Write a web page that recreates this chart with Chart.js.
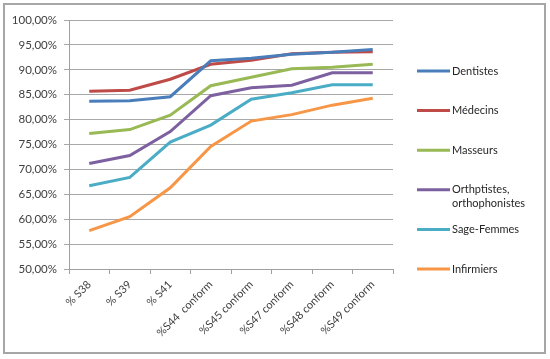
<!DOCTYPE html>
<html>
<head>
<meta charset="utf-8">
<script src="https://cdn.jsdelivr.net/npm/chart.js@4"></script>
<style>
  html, body { margin: 0; padding: 0; background: #fff; }
  #wrap { position: relative; width: 550px; height: 359px; }
  #frame { position: absolute; left: 3px; top: 3px; width: 539px; height: 347px;
           border: 2px solid #a6a6a6; pointer-events: none; }
</style>
</head>
<body>
<div id="wrap">
  <canvas id="lineChart" width="550" height="359"></canvas>
  <div id="frame"></div>
</div>
<script>
const weeks = ['% S38', '% S39', '% S41', '%S44  conform', '%S45 conform',
  '%S47 conform', '%S48 conform', '%S49 conform'];

const dentistes = [83.7, 83.8, 84.6, 91.8, 92.3, 93.1, 93.5, 94.1];
const medecins = [85.7, 85.9, 88.1, 91.1, 91.9, 93.2, 93.5, 93.6];
const masseurs = [77.2, 78.0, 80.9, 86.8, 88.5, 90.2, 90.5, 91.1];
const orthoptistes = [71.2, 72.8, 77.6, 84.8, 86.4, 86.9, 89.4, 89.4];
const sageFemmes = [66.7, 68.4, 75.5, 78.9, 84.1, 85.4, 87.0, 87.0];
const infirmiers = [57.7, 60.5, 66.3, 74.6, 79.7, 81.0, 82.9, 84.3];

const seriesNames = ['Dentistes', 'Médecins', 'Masseurs',
  'Orthptistes,\northophonistes', 'Sage-Femmes', 'Infirmiers'];
const seriesColors = ['#4a7ebb', '#be4b48', '#98b954', '#7d60a0', '#4bacc6', '#f79646'];

const yMin = 50;
const yMax = 100;
const yStep = 5;

const font = 'Lato';

// legend drawn by hand so the spacing matches the spreadsheet look
const sideLegend = {
  id: 'sideLegend',
  afterDraw(chart) {
    const ctx = chart.ctx;
    const top = 71, gap = 39.6;
    ctx.save();
    ctx.font = '11px ' + font;
    ctx.textBaseline = 'middle';
    ctx.textAlign = 'left';
    chart.data.datasets.forEach((ds, i) => {
      const y = top + i * gap;
      ctx.strokeStyle = ds.borderColor;
      ctx.lineWidth = 3;
      ctx.beginPath();
      ctx.moveTo(417, y);
      ctx.lineTo(450, y);
      ctx.stroke();
      ctx.fillStyle = '#262626';
      ds.label.split('\n').forEach((line, j) => {
        ctx.fillText(line, 452, y + j * 14);
      });
    });
    ctx.restore();
  },
};

const allSeries = [dentistes, medecins, masseurs, orthoptistes, sageFemmes, infirmiers];

const ctx = document.getElementById('lineChart').getContext('2d');

new Chart(ctx, {
  type: 'line',
  data: {
    labels: weeks,
    datasets: allSeries.map((data, i) => ({
      label: seriesNames[i],
      data: data,
      borderColor: seriesColors[i],
      backgroundColor: seriesColors[i],
      borderWidth: 3,
      pointRadius: 0,
      tension: 0,
      fill: false,
    })),
  },
  plugins: [sideLegend],
  options: {
    responsive: false,
    animation: false,
    layout: {
      padding: { left: 0, top: 20, right: 157, bottom: 0 },
    },
    plugins: {
      legend: { display: false },
      tooltip: { enabled: false },
    },
    scales: {
      x: {
        offset: true,
        afterFit: (scale) => { scale.height = 90; },
        grid: {
          offset: true,
          drawOnChartArea: false,
          drawTicks: true,
          tickLength: 5,
          color: '#a0a0a0',
        },
        border: { color: '#a0a0a0', width: 1 },
        ticks: {
          autoSkip: false,
          maxRotation: 45,
          minRotation: 45,
          padding: 4,
          color: '#404040',
          font: { family: font, size: 11 },
        },
      },
      y: {
        min: yMin,
        max: yMax,
        afterFit: (scale) => { scale.width = 69; },
        grid: {
          color: '#a8a8a8',
          tickLength: 5,
        },
        border: { color: '#a0a0a0', width: 1 },
        ticks: {
          stepSize: yStep,
          padding: 7,
          color: '#404040',
          font: { family: font, size: 11.5 },
          callback: (v) => v.toFixed(2).replace('.', ',') + '%',
        },
      },
    },
  },
});
</script>
</body>
</html>
